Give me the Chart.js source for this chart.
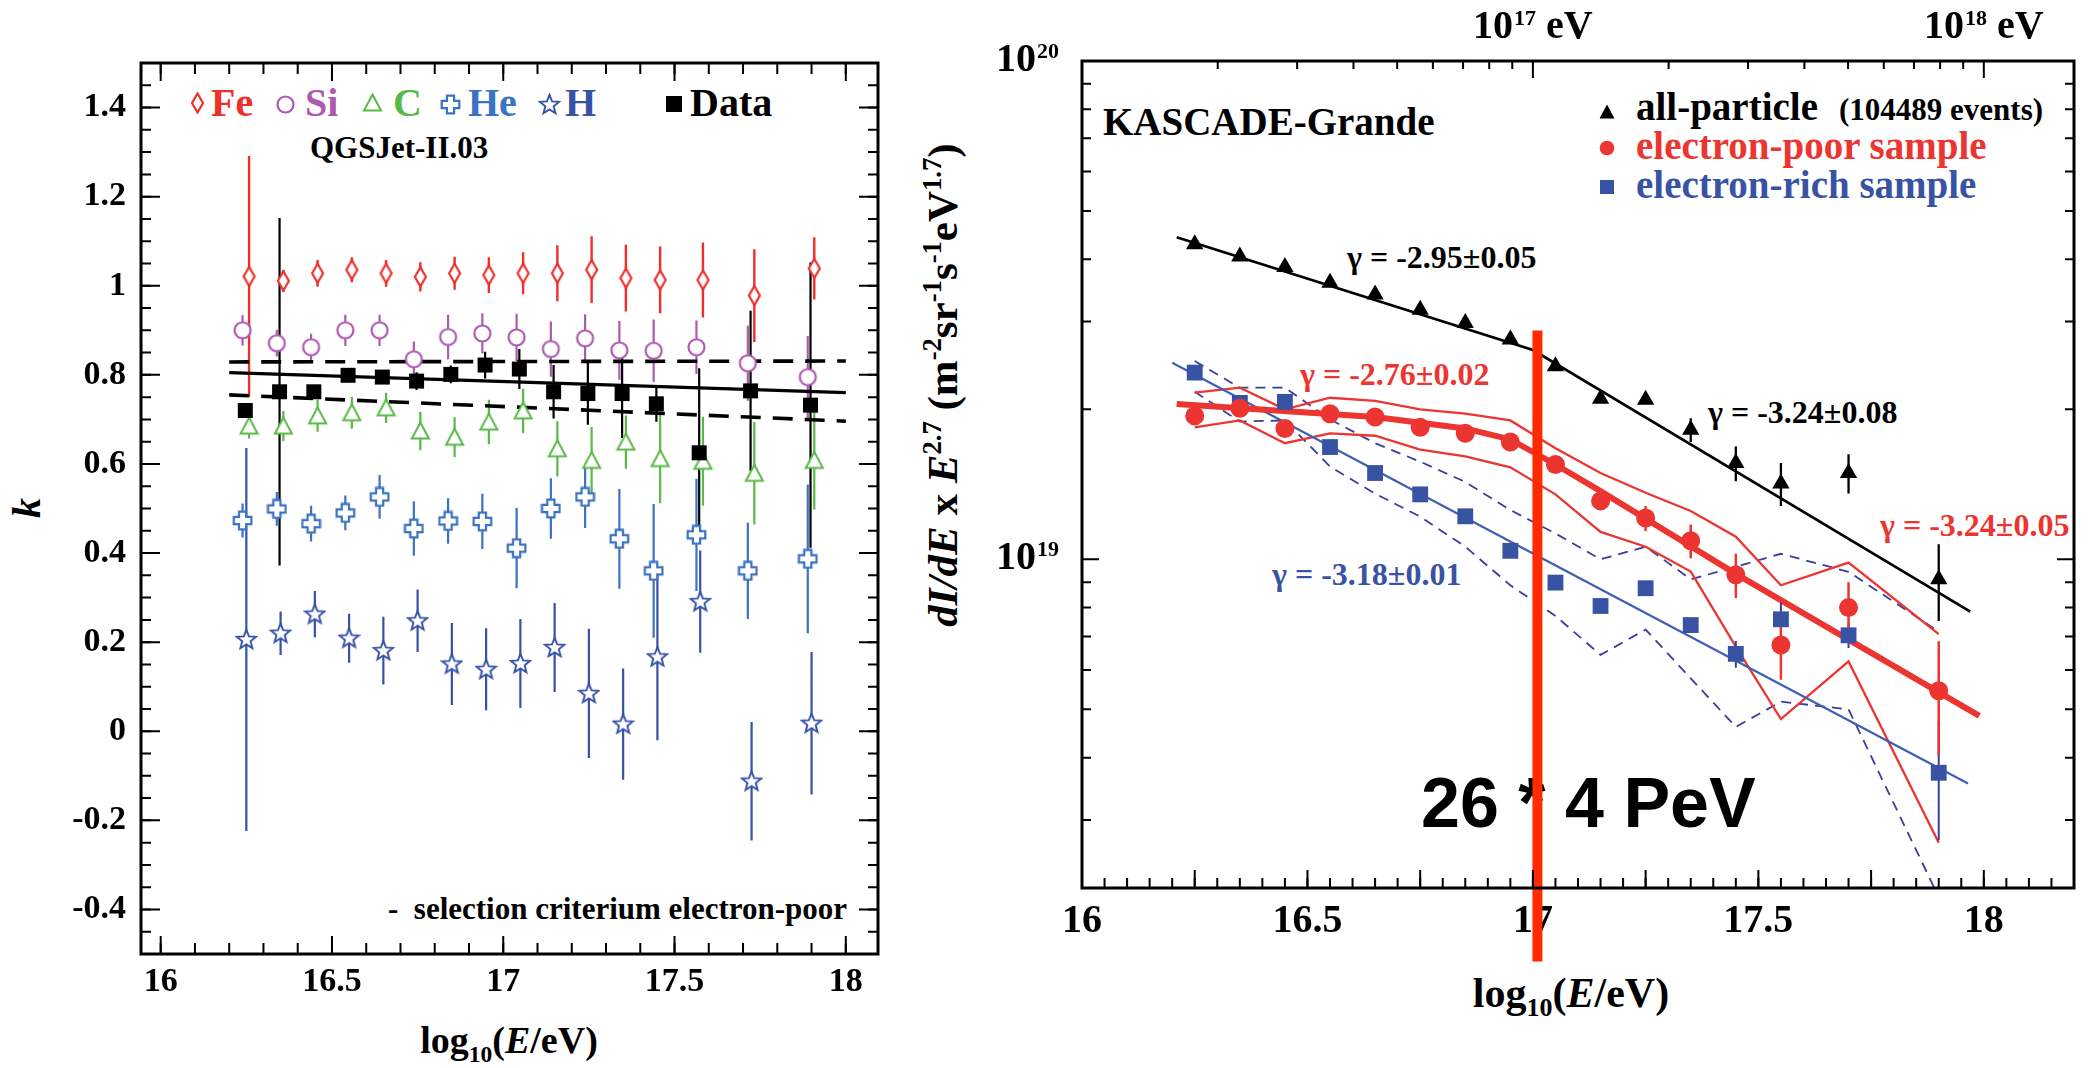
<!DOCTYPE html>
<html><head><meta charset="utf-8">
<script src="https://cdn.jsdelivr.net/npm/chart.js@4.4.1/dist/chart.umd.min.js"></script>
<style>
html,body{margin:0;padding:0;background:#fff;width:2096px;height:1068px;overflow:hidden;position:relative;}
.t{position:absolute;white-space:nowrap;font-family:'Liberation Serif','Times New Roman',serif;font-weight:bold;z-index:0;}
.t sup,.t sub{font-size:62%;line-height:0;}
canvas.chart{position:absolute;top:0;z-index:1;}
.mk{position:absolute;z-index:2;}
</style></head><body>
<canvas class="chart" id="cL" width="960" height="1068" style="left:0px"></canvas>
<canvas class="chart" id="cR" width="1136" height="1068" style="left:960px"></canvas>
<script>
// ---------------- LEFT PANEL DATA (k parameter) ----------------
const kX = [16.25,16.35,16.45,16.55,16.65,16.75,16.85,16.95,17.05,17.15,17.25,17.35,17.45,17.575,17.725,17.9];
const feK   = [1.021,1.011,1.028,1.036,1.028,1.020,1.028,1.024,1.028,1.028,1.036,1.017,1.013,1.013,0.978,1.039];
const feErr = [0.27,0.025,0.03,0.028,0.03,0.033,0.037,0.04,0.047,0.063,0.075,0.075,0.075,0.084,0.104,0.07];
const siK   = [0.900,0.871,0.862,0.900,0.900,0.835,0.885,0.893,0.884,0.858,0.882,0.855,0.854,0.862,0.826,0.795];
const siErr = [0.034,0.03,0.03,0.035,0.035,0.04,0.05,0.045,0.053,0.062,0.054,0.066,0.07,0.06,0.084,0.092];
const cK    = [0.685,0.685,0.708,0.715,0.726,0.674,0.66,0.694,0.719,0.634,0.608,0.649,0.612,0.606,0.579,0.608];
const cErr  = [0.028,0.034,0.036,0.036,0.034,0.043,0.045,0.05,0.05,0.062,0.075,0.06,0.1,0.1,0.115,0.11];
const heK   = [0.473,0.499,0.466,0.490,0.526,0.455,0.472,0.471,0.411,0.500,0.526,0.432,0.360,0.441,0.360,0.387];
const heErr = [0.038,0.038,0.04,0.039,0.049,0.061,0.051,0.062,0.09,0.068,0.07,0.112,0.15,0.126,0.108,0.167];
const hK    = [0.206,0.22,0.263,0.209,0.181,0.248,0.151,0.139,0.152,0.188,0.085,0.016,0.167,0.291,-0.112,0.018];
const hErr  = [0.43,0.049,0.052,0.055,0.076,0.07,0.092,0.092,0.1,0.1,0.145,0.125,0.187,0.115,0.133,0.16];
const dataK   = [0.720,0.762,0.762,0.799,0.795,0.786,0.801,0.822,0.813,0.762,0.758,0.758,0.735,0.625,0.764,0.732];
const dataErr = [0.005,0.39,0.01,0.01,0.01,0.02,0.02,0.03,0.045,0.06,0.07,0.1,0.04,0.19,0.18,0.32];
const fitX   = [16.2,18.0];
const fitMid = [0.805,0.760];
const fitUp  = [0.829,0.831];
const fitLo  = [0.755,0.696];
const kXTicks  = [16,16.5,17,17.5,18];
const kXLabels = ['16','16.5','17','17.5','18'];
const kYTicks  = [-0.4,-0.2,0,0.2,0.4,0.6,0.8,1,1.2,1.4];
const kYLabels = ['-0.4','-0.2','0','0.2','0.4','0.6','0.8','1','1.2','1.4'];

// ---------------- RIGHT PANEL DATA (flux, units of 1e19) ----------------
const UNIT = 1e19;
const eX = [16.25,16.35,16.45,16.55,16.65,16.75,16.85,16.95,17.05,17.15,17.25,17.35,17.45,17.55,17.7,17.9];
const allP     = [4.29,4.05,3.86,3.59,3.40,3.17,2.98,2.76,2.44,2.10,2.09,1.82,1.56,1.42,1.49,0.912];
const allPErr  = [0,0,0,0,0,0,0,0,0,0,0,0.10,0.125,0.14,0.135,0.16];
const ePoor    = [1.94,2.01,1.83,1.96,1.93,1.84,1.79,1.72,1.55,1.31,1.21,1.09,0.931,0.673,0.800,0.545];
const ePoorErr = [0,0,0,0,0,0,0,0,0,0.02,0.07,0.085,0.095,0.10,0.10,0.14];
const eRich    = [2.37,2.06,2.07,1.68,1.49,1.35,1.22,1.04,0.898,0.806,0.875,0.738,0.646,0.758,0.704,0.373];
const eRichErr = [0,0,0,0,0,0,0,0,0,0,0,0.02,0.04,0.06,0.04,0.1];
const allFitX  = [16.21,17.0,17.97];
const allFit   = [4.43,2.63,0.785];
const poorFitX = [16.21,16.65,16.85,16.95,17.05,17.15,17.45,17.99];
const poorFit  = [2.05,1.93,1.83,1.74,1.55,1.37,0.935,0.485];
const richFitX = [16.2,17.965];
const richFit  = [2.48,0.355];
const poorUp = [2.16,2.21,2.0,2.11,2.08,2.0,1.96,1.90,1.67,1.49,1.36,1.25,1.11,0.887,0.985,0.708];
const poorLo = [1.84,1.90,1.71,1.79,1.77,1.66,1.61,1.53,1.35,1.135,1.06,0.945,0.668,0.478,0.624,0.270];
const richUp = [2.50,2.21,2.21,1.91,1.71,1.57,1.43,1.256,1.127,1.0,1.06,0.912,0.966,1.026,0.944,0.716];
const richLo = [2.17,1.89,1.90,1.535,1.355,1.218,1.06,0.887,0.77,0.643,0.723,0.577,0.461,0.518,0.50,0.21];
const cutX = [17.01,17.01];
const cutY = [2.88,0.156];
const eXTicks  = [16,16.5,17,17.5,18];
const eXLabels = ['16','16.5','17','17.5','18'];
const eYTicks  = [1e19,1e20];
const eYBase   = '10';
const eYExp    = ['19','20'];
const topTicks = [17,18];
const topExp   = ['17','18'];
const topUnit  = ' eV';

// ---------------- styles ----------------
const SERIF = "'Liberation Serif','Times New Roman',serif";
const FE='#ee2f2a', SI='#ad5aaf', CC='#58b947', HE='#3b72c2', HH='#3552a6';
const RED='#ec3530', BLUE='#3953a4', BLUEL='#3e5fb2', DASH='#3a3d9c', CUT='#ff2a00';
Chart.defaults.font.family = SERIF;

function mk(w,h,draw){const c=document.createElement('canvas');c.width=w;c.height=h;draw(c.getContext('2d'));return c;}
function outline(g,color,lw){g.fillStyle='#fff';g.fill();g.lineWidth=lw;g.strokeStyle=color;g.stroke();}
const M = {
  diamond:c=>mk(15,22,g=>{g.beginPath();g.moveTo(7.5,1.5);g.lineTo(13,11);g.lineTo(7.5,20.5);g.lineTo(2,11);g.closePath();outline(g,c,2.2);}),
  circle:c=>mk(21,21,g=>{g.beginPath();g.arc(10.5,10.5,8,0,Math.PI*2);outline(g,c,2.2);}),
  triangle:c=>mk(21,20,g=>{g.beginPath();g.moveTo(10.5,1.5);g.lineTo(19,17.5);g.lineTo(2,17.5);g.closePath();outline(g,c,2);}),
  cross:c=>mk(21,21,g=>{const a=3.6,L=8.8,o=10.5;const p=[[-a,-L],[a,-L],[a,-a],[L,-a],[L,a],[a,a],[a,L],[-a,L],[-a,a],[-L,a],[-L,-a],[-a,-a]];g.beginPath();p.forEach(([x,y],i)=>i?g.lineTo(o+x,o+y):g.moveTo(o+x,o+y));g.closePath();outline(g,c,2.2);}),
  star:c=>mk(23,23,g=>{g.beginPath();for(let i=0;i<10;i++){const r=i%2?4.4:10.2;const an=-Math.PI/2+i*Math.PI/5;const x=11.5+r*Math.cos(an),y=12+r*Math.sin(an);i?g.lineTo(x,y):g.moveTo(x,y);}g.closePath();outline(g,c,1.9);}),
  fsquare:(c,s)=>mk(s,s,g=>{g.fillStyle=c;g.fillRect(0,0,s,s);}),
  ftri:c=>mk(16,15,g=>{g.beginPath();g.moveTo(8,0.5);g.lineTo(15.5,14.5);g.lineTo(0.5,14.5);g.closePath();g.fillStyle=c;g.fill();}),
  fcircle:c=>mk(16,16,g=>{g.beginPath();g.arc(8,8,7.3,0,Math.PI*2);g.fillStyle=c;g.fill();})
};
function putMarker(cv,cx,cy){cv.className='mk';cv.style.left=(cx-cv.width/2)+'px';cv.style.top=(cy-cv.height/2)+'px';document.body.appendChild(cv);}
function txt(html,o){
  const d=document.createElement('div');d.className='t';d.innerHTML=html;
  const F=o.size;d.style.fontSize=F+'px';d.style.lineHeight=F+'px';d.style.color=o.color||'#000';
  if(o.sans)d.style.fontFamily="'Liberation Sans',Arial,sans-serif";
  if(o.italic)d.style.fontStyle='italic';
  const asc=o.sans?0.8465:0.8375;
  if(o.rotate){d.style.left=o.cx+'px';d.style.top=o.cy+'px';d.style.transform='translate(-50%,-50%) rotate(-90deg)';}
  else{d.style.top=(o.baseline-asc*F)+'px';
    if(o.cx!=null){d.style.left=o.cx+'px';d.style.transform='translateX(-50%)';}else d.style.left=o.left+'px';}
  document.body.appendChild(d);
}

// ---------------- helpers for datasets ----------------
const pts=(xs,ys,sh=0,u=1)=>xs.map((x,i)=>({x:x+sh,y:ys[i]*u}));
function errPts(xs,ys,es,sh=0,u=1){const o=[];xs.forEach((x,i)=>{if(!es[i])return;o.push({x:x+sh,y:(ys[i]-es[i])*u},{x:x+sh,y:(ys[i]+es[i])*u},{x:x+sh,y:null});});return o;}
const marks=(data,style,order)=>Object.assign({data,showLine:false,pointRadius:8,pointHoverRadius:8,borderWidth:0,order},style);
const errs=(data,color,w,order)=>({data,showLine:true,borderColor:color,borderWidth:w,pointRadius:0,spanGaps:false,order});
const line=(data,color,w,dash,order,extra)=>Object.assign({data,showLine:true,borderColor:color,borderWidth:w,borderDash:dash||[],pointRadius:0,tension:0,order},extra||{});

const framePlugin={
  id:'frame',
  afterDatasetsDraw(chart,args,o){
    const {ctx,chartArea:a}=chart;ctx.save();ctx.strokeStyle='#000';
    (o.sets||[]).forEach(s=>{
      const sc=chart.scales[s.scale];ctx.lineWidth=s.width||2;ctx.beginPath();
      s.values.forEach(v=>{const p=sc.getPixelForValue(v);
        if(sc.isHorizontal()){if(p<a.left+1||p>a.right-1)return;
          if(s.sides.includes('bottom')){ctx.moveTo(p,a.bottom);ctx.lineTo(p,a.bottom-s.len);}
          if(s.sides.includes('top')){ctx.moveTo(p,a.top);ctx.lineTo(p,a.top+s.len);}}
        else{if(p<a.top+1||p>a.bottom-1)return;
          if(s.sides.includes('left')){ctx.moveTo(a.left,p);ctx.lineTo(a.left+s.len,p);}
          if(s.sides.includes('right')){ctx.moveTo(a.right,p);ctx.lineTo(a.right-s.len,p);}}
      });ctx.stroke();});
    ctx.lineWidth=o.border||3;ctx.strokeRect(a.left,a.top,a.right-a.left,a.bottom-a.top);ctx.restore();
  }
};
// power-of-ten tick labels (base + raised exponent) placed with the library's scales
const powPlugin={
  id:'pow',
  afterDraw(chart,args,o){
    const ctx=chart.ctx,a=chart.chartArea;ctx.save();ctx.fillStyle='#000';ctx.textAlign='left';ctx.textBaseline='alphabetic';
    const F=(s)=>`bold ${s}px ${SERIF}`;
    (o.items||[]).forEach(it=>{
      const sc=chart.scales[it.scale];
      it.values.forEach((v,i)=>{
        const p=sc.getPixelForValue(v);
        ctx.font=F(it.size);const wb=ctx.measureText(it.base).width;const wsuf=it.suffix?ctx.measureText(it.suffix).width:0;
        ctx.font=F(it.supSize);const ws=ctx.measureText(it.exps[i]).width;
        let x0,bl;
        if(it.side==='left'){x0=a.left-it.pad-wb-ws-1;bl=p+it.dy;}else{x0=p-(wb+ws+wsuf+1)/2;bl=it.baseline;}
        ctx.font=F(it.size);ctx.fillText(it.base,x0,bl);
        ctx.font=F(it.supSize);ctx.fillText(it.exps[i],x0+wb+1,bl-it.rise);
        if(it.suffix){ctx.font=F(it.size);ctx.fillText(it.suffix,x0+wb+ws+1,bl);}
      });
    });
    ctx.restore();
  }
};
const rng=(a,b,s)=>{const r=[];for(let v=a;v<=b+1e-9;v+=s)r.push(Math.round(v*1000)/1000);return r;};
const logMinor=[];[18,19].forEach(d=>{for(let m=2;m<=9;m++)logMinor.push(m*Math.pow(10,d));});
const topMinor=[];[16,17].forEach(d=>{for(let m=2;m<=9;m++)topMinor.push(d+Math.log10(m));});

// ---------------- LEFT CHART ----------------
const tickFontL={family:SERIF,weight:'bold',size:34};
new Chart(document.getElementById('cL'),{
  type:'line',
  data:{datasets:[
    errs(errPts(kX,feK,feErr,0.008),FE,2.4,30),
    errs(errPts(kX,siK,siErr,-0.011),SI,2.2,30),
    errs(errPts(kX,cK,cErr,0.008),CC,2.2,30),
    errs(errPts(kX,heK,heErr,-0.011),HE,2.2,30),
    errs(errPts(kX,hK,hErr,0),HH,2.2,30),
    errs(errPts(kX,dataK,dataErr,-0.003),'#000',2.2,29),
    line(pts(fitX,fitMid),'#000',3.2,[],20),
    line(pts(fitX,fitUp),'#000',3.6,[20,12],20),
    line(pts(fitX,fitLo),'#000',3.6,[20,12],20),
    marks(pts(kX,feK,0.008),{pointStyle:M.diamond(FE)},5),
    marks(pts(kX,siK,-0.011),{pointStyle:M.circle(SI)},5),
    marks(pts(kX,cK,0.008),{pointStyle:M.triangle(CC)},5),
    marks(pts(kX,heK,-0.011),{pointStyle:M.cross(HE)},5),
    marks(pts(kX,hK,0),{pointStyle:M.star(HH)},5),
    marks(pts(kX,dataK,-0.003),{pointStyle:'rect',pointRadius:10.6,backgroundColor:'#000',borderColor:'#000'},4)
  ]},
  options:{responsive:false,animation:false,events:[],
    layout:{padding:{left:0,top:63,right:82,bottom:0}},
    plugins:{legend:{display:false},tooltip:{enabled:false},
      frame:{border:3,sets:[
        {scale:'x',values:rng(16,18,0.1),len:11,sides:['bottom','top']},
        {scale:'x',values:kXTicks,len:18,sides:['bottom','top']},
        {scale:'y',values:rng(-0.5,1.5,0.05),len:10,sides:['left','right']},
        {scale:'y',values:kYTicks,len:19,sides:['left','right']}]}},
    scales:{
      x:{type:'linear',min:15.9425,max:18.094,grid:{display:false,drawTicks:false},border:{display:false},
        afterBuildTicks:s=>{s.ticks=kXTicks.map(v=>({value:v}));},afterFit:s=>{s.height=114;},
        ticks:{autoSkip:false,maxRotation:0,padding:8,color:'#000',font:tickFontL,callback:(v,i)=>kXLabels[i]}},
      y:{type:'linear',min:-0.5,max:1.5,grid:{display:false,drawTicks:false},border:{display:false},
        afterBuildTicks:s=>{s.ticks=kYTicks.map(v=>({value:v}));},afterFit:s=>{s.width=141;},
        ticks:{autoSkip:false,padding:15,color:'#000',font:tickFontL,callback:(v,i)=>kYLabels[i]}}
    }},
  plugins:[framePlugin]
});

// ---------------- RIGHT CHART ----------------
const tickFontR={family:SERIF,weight:'bold',size:40};
new Chart(document.getElementById('cR'),{
  type:'line',
  data:{datasets:[
    line(pts(eX,poorUp,0,UNIT),RED,2.3,[],40),
    line(pts(eX,poorLo,0,UNIT),RED,2.3,[],40),
    line(pts(eX,richUp,0,UNIT),DASH,1.8,[10,7],40),
    line(pts(eX,richLo,0,UNIT),DASH,1.8,[10,7],40),
    line(pts(richFitX,richFit,0,UNIT),BLUEL,2.2,[],35),
    line(pts(allFitX,allFit,0,UNIT),'#000',2.7,[],35),
    line(pts(poorFitX,poorFit,0,UNIT),RED,6,[],34),
    errs(errPts(eX,allP,allPErr,0,UNIT),'#000',2.3,30),
    errs(errPts(eX,ePoor,ePoorErr,0,UNIT),RED,2.5,30),
    errs(errPts(eX,eRich,eRichErr,0,UNIT),DASH,2,31),
    marks(pts(eX,eRich,0,UNIT),{pointStyle:'rect',pointRadius:11.2,backgroundColor:BLUE,borderColor:BLUE},10),
    marks(pts(eX,ePoor,0,UNIT),{pointStyle:'circle',pointRadius:9.5,backgroundColor:RED,borderColor:RED},9),
    marks(pts(eX,allP,0,UNIT),{pointStyle:'triangle',pointRadius:10,backgroundColor:'#000',borderColor:'#000'},8),
    line(pts(cutX,cutY,0,UNIT),CUT,10,[],0,{clip:false})
  ]},
  options:{responsive:false,animation:false,events:[],
    layout:{padding:{left:0,top:0,right:22,bottom:0}},
    plugins:{legend:{display:false},tooltip:{enabled:false},
      frame:{border:3,sets:[
        {scale:'x',values:rng(16,18.2,0.05),len:10,sides:['bottom']},
        {scale:'x',values:rng(16,18.2,0.25),len:18,sides:['bottom']},
        {scale:'xTop',values:topMinor,len:8,sides:['top']},
        {scale:'xTop',values:topTicks,len:17,sides:['top']},
        {scale:'y',values:logMinor,len:9,sides:['left','right']},
        {scale:'y',values:eYTicks,len:17,sides:['left','right']}]},
      pow:{items:[
        {scale:'y',side:'left',values:eYTicks,base:eYBase,exps:eYExp,size:40,supSize:22,rise:13,pad:23,dy:10},
        {scale:'xTop',side:'top',values:topTicks,base:eYBase,exps:topExp,suffix:topUnit,size:40,supSize:22,rise:13,baseline:38}]}},
    scales:{
      x:{type:'linear',position:'bottom',min:16,max:18.2,grid:{display:false,drawTicks:false},border:{display:false},
        afterBuildTicks:s=>{s.ticks=eXTicks.map(v=>({value:v}));},afterFit:s=>{s.height=180;},
        ticks:{autoSkip:false,maxRotation:0,padding:10,color:'#000',font:tickFontR,callback:(v,i)=>eXLabels[i]}},
      xTop:{type:'linear',position:'top',min:16,max:18.2,grid:{display:false,drawTicks:false},border:{display:false},
        afterBuildTicks:s=>{s.ticks=topTicks.map(v=>({value:v}));},afterFit:s=>{s.height=61;},
        ticks:{display:false}},
      y:{type:'logarithmic',min:2.19e18,max:1e20,grid:{display:false,drawTicks:false},border:{display:false},
        afterBuildTicks:s=>{s.ticks=eYTicks.map(v=>({value:v}));},afterFit:s=>{s.width=122;},
        ticks:{display:false}}
    }},
  plugins:[framePlugin,powPlugin]
});

// ---------------- TEXT & LEGENDS ----------------
putMarker(M.diamond(FE),197,103); txt('Fe',{left:211,baseline:116,size:40,color:FE});
putMarker(M.circle(SI),285,104);  txt('Si',{left:305,baseline:116,size:40,color:SI});
putMarker(M.triangle(CC),372,103);txt('C',{left:393,baseline:116,size:40,color:CC});
putMarker(M.cross(HE),450,104);   txt('He',{left:468,baseline:116,size:40,color:HE});
putMarker(M.star(HH),549,104);    txt('H',{left:565,baseline:116,size:40,color:HH});
putMarker(M.fsquare('#000',16),674,104); txt('Data',{left:690,baseline:116,size:40});
txt('QGSJet-II.03',{left:310,baseline:158,size:31});
txt('-&nbsp;&nbsp;selection criterium electron-poor',{left:388,baseline:919,size:31});
txt('k',{rotate:true,cx:27,cy:508,size:40,italic:true});
txt('log<sub>10</sub>(<i>E</i>/eV)',{cx:509,baseline:1053,size:38});
txt('KASCADE-Grande',{left:1103,baseline:135,size:39});
putMarker(M.ftri('#000'),1607,111); txt('all-particle',{left:1636,baseline:120,size:39});
txt('(104489 events)',{left:1839,baseline:120,size:31});
putMarker(M.fcircle(RED),1607,148); txt('electron-poor sample',{left:1636,baseline:159,size:39,color:RED});
putMarker(M.fsquare(BLUE,14),1607,187); txt('electron-rich sample',{left:1636,baseline:198,size:39,color:BLUE});
txt('\u03B3 = -2.95\u00B10.05',{left:1347,baseline:268,size:32});
txt('\u03B3 = -2.76\u00B10.02',{left:1300,baseline:385,size:32,color:RED});
txt('\u03B3 = -3.18\u00B10.01',{left:1272,baseline:585,size:32,color:BLUE});
txt('\u03B3 = -3.24\u00B10.08',{left:1708,baseline:423,size:32});
txt('\u03B3 = -3.24\u00B10.05',{left:1880,baseline:536,size:32,color:RED});
txt('26 * 4 PeV',{left:1421,baseline:827,size:70,sans:true});
txt('<i>dI/dE</i> x <i>E</i><sup>2.7</sup> (m<sup>-2</sup>sr<sup>-1</sup>s<sup>-1</sup>eV<sup>1.7</sup>)',{rotate:true,cx:942,cy:385,size:43});
txt('log<sub>10</sub>(<i>E</i>/eV)',{cx:1571,baseline:1007,size:42});
</script></body></html>
